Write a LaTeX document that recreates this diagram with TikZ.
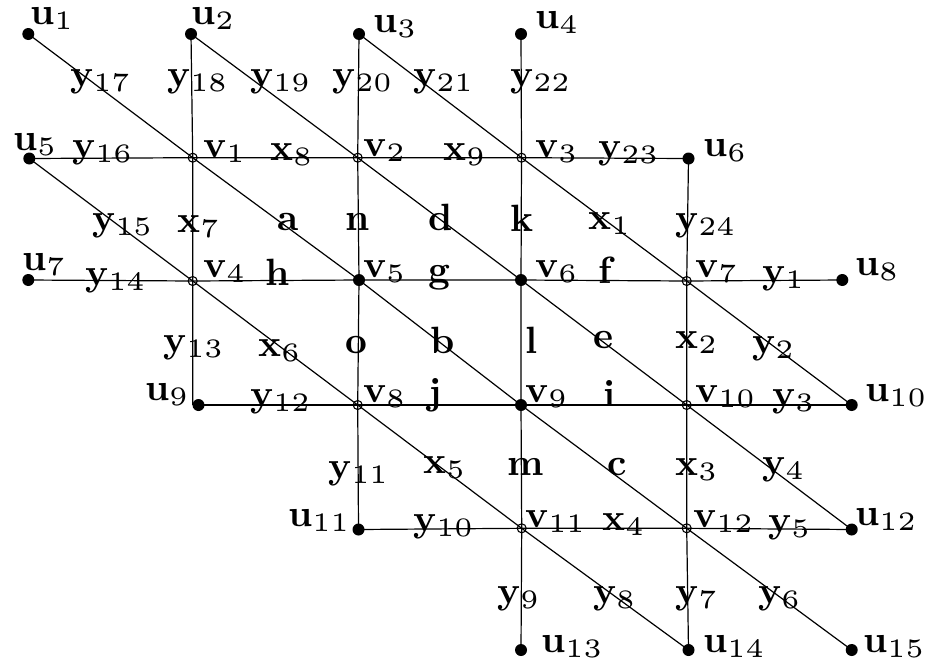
\documentclass[tikz,border=0pt]{standalone}
\usepackage{graphicx}
\newcommand\blab[1]{\scalebox{3.8}{\fontsize{10}{12}\selectfont\bfseries #1}}
\newcommand\vlab[2]{\blab{#1}\raisebox{-5.7pt}{\scalebox{5.32}{\fontsize{5}{6}\selectfont\mdseries #2}}}
\begin{document}
\begin{tikzpicture}[x=1pt,y=-1pt,
  edge/.style={line width=1.2pt},
  udot/.style={circle,fill=black,inner sep=0pt,minimum size=12pt},
  vopen/.style={circle,draw=black,line width=1.1pt,inner sep=0pt,minimum size=9pt},
  lbl/.style={anchor=base west,inner sep=0pt,font=\fontsize{10}{12}\selectfont}]
\useasboundingbox (0,0) rectangle (933,667);
% vertices
\node[udot] (u1) at (28.3,34) {};
\node[udot] (u2) at (191,34) {};
\node[udot] (u3) at (359,34) {};
\node[udot] (u4) at (521,34) {};
\node[udot] (u5) at (29.3,158.5) {};
\node[vopen] (v1) at (192.7,157.7) {};
\node[vopen] (v2) at (357.7,157.7) {};
\node[vopen] (v3) at (521.5,157.7) {};
\node[udot] (u6) at (688.5,158.5) {};
\node[udot] (u7) at (28.3,280) {};
\node[vopen] (v4) at (192.7,281) {};
\node[udot] (v5) at (359,280) {};
\node[udot] (v6) at (521,280) {};
\node[vopen] (v7) at (686.7,281) {};
\node[udot] (u8) at (842.3,280) {};
\node[udot] (u9) at (198.5,405) {};
\node[vopen] (v8) at (357.7,405) {};
\node[udot] (v9) at (521,405) {};
\node[vopen] (v10) at (686.7,405) {};
\node[udot] (u10) at (851.7,405) {};
\node[udot] (u11) at (358.5,529.5) {};
\node[vopen] (v11) at (521.7,528.3) {};
\node[vopen] (v12) at (686.7,528.3) {};
\node[udot] (u12) at (851.7,529.5) {};
\node[udot] (u13) at (521,650) {};
\node[udot] (u14) at (688.5,650) {};
\node[udot] (u15) at (851.7,650) {};
% vertical edges
\draw[edge] (u2.center) -- (v1.center) -- (v4.center) -- (v4.center |- u9.center);
\draw[edge] (u3.center) -- (v2.center) -- (v5.center) -- (v8.center) -- (u11.center);
\draw[edge] (u4.center) -- (v3.center) -- (v6.center) -- (v9.center) -- (v11.center) -- (u13.center);
\draw[edge] (u6.center) -- (v7.center) -- (v10.center) -- (v12.center) -- (u14.center);
% horizontal edges
\draw[edge] (u5.center) -- (v1.center) -- (v2.center) -- (v3.center) -- (u6.center);
\draw[edge] (u7.center) -- (v4.center) -- (v5.center) -- (v6.center) -- (v7.center) -- (u8.center);
\draw[edge] (u9.center) -- (v8.center) -- (v9.center) -- (v10.center) -- (u10.center);
\draw[edge] (u11.center) -- (v11.center) -- (v12.center) -- (u12.center);
% diagonal edges
\draw[edge] (u1.center) -- (v1.center) -- (v5.center) -- (v9.center) -- (v12.center) -- (u15.center);
\draw[edge] (u2.center) -- (v2.center) -- (v6.center) -- (v10.center) -- (u12.center);
\draw[edge] (u3.center) -- (v3.center) -- (v7.center) -- (u10.center);
\draw[edge] (u5.center) -- (v4.center) -- (v8.center) -- (v11.center) -- (u14.center);
% labels
\node[lbl] (Lu1) at (30,24) {\vlab{u}{1}};
\node[lbl] (Lu2) at (191,24) {\vlab{u}{2}};
\node[lbl] (Lu3) at (373,32) {\vlab{u}{3}};
\node[lbl] (Lu4) at (535,28) {\vlab{u}{4}};
\node[lbl] (Ly17) at (70,86) {\vlab{y}{17}};
\node[lbl] (Ly18) at (167,86) {\vlab{y}{18}};
\node[lbl] (Ly19) at (250,86) {\vlab{y}{19}};
\node[lbl] (Ly20) at (332,86) {\vlab{y}{20}};
\node[lbl] (Ly21) at (413,86) {\vlab{y}{21}};
\node[lbl] (Ly22) at (510,86) {\vlab{y}{22}};
\node[lbl] (Lu5) at (13,150) {\vlab{u}{5}};
\node[lbl] (Ly16) at (72,157) {\vlab{y}{16}};
\node[lbl] (Lv1) at (203,157) {\vlab{v}{1}};
\node[lbl] (Lx8) at (270,160) {\vlab{x}{8}};
\node[lbl] (Lv2) at (363,156) {\vlab{v}{2}};
\node[lbl] (Lx9) at (443,160) {\vlab{x}{9}};
\node[lbl] (Lv3) at (535,157) {\vlab{v}{3}};
\node[lbl] (Ly23) at (598,158) {\vlab{y}{23}};
\node[lbl] (Lu6) at (703,156) {\vlab{u}{6}};
\node[lbl] (Ly15) at (92,230) {\vlab{y}{15}};
\node[lbl] (Lx7) at (177,232) {\vlab{x}{7}};
\node[lbl] (La) at (277,230) {\blab{a}};
\node[lbl] (Ln) at (345,230) {\blab{n}};
\node[lbl] (Ld) at (428,230) {\blab{d}};
\node[lbl] (Lk) at (510,231) {\blab{k}};
\node[lbl] (Lx1) at (588,229) {\vlab{x}{1}};
\node[lbl] (Ly24) at (675,230) {\vlab{y}{24}};
\node[lbl] (Lu7) at (22,270) {\vlab{u}{7}};
\node[lbl] (Ly14) at (85,285) {\vlab{y}{14}};
\node[lbl] (Lv4) at (203,277) {\vlab{v}{4}};
\node[lbl] (Lh) at (265,285) {\blab{h}};
\node[lbl] (Lv5) at (363,277) {\vlab{v}{5}};
\node[lbl] (Lg) at (428,282) {\blab{g}};
\node[lbl] (Lv6) at (535,277) {\vlab{v}{6}};
\node[lbl] (Lf) at (598,283) {\blab{f}};
\node[lbl] (Lv7) at (695,277) {\vlab{v}{7}};
\node[lbl] (Ly1) at (762,283) {\vlab{y}{1}};
\node[lbl] (Lu8) at (855,275) {\vlab{u}{8}};
\node[lbl] (Ly13) at (163,352) {\vlab{y}{13}};
\node[lbl] (Lx6) at (258,356) {\vlab{x}{6}};
\node[lbl] (Lo) at (345,353) {\blab{o}};
\node[lbl] (Lb) at (430,353) {\blab{b}};
\node[lbl] (Ll) at (525,353) {\blab{l}};
\node[lbl] (Le) at (593,348) {\blab{e}};
\node[lbl] (Lx2) at (675,348) {\vlab{x}{2}};
\node[lbl] (Ly2) at (752,353) {\vlab{y}{2}};
\node[lbl] (Lu9) at (145,400) {\vlab{u}{9}};
\node[lbl] (Ly12) at (250,406) {\vlab{y}{12}};
\node[lbl] (Lv8) at (363,402) {\vlab{v}{8}};
\node[lbl] (Lj) at (428,404) {\blab{j}};
\node[lbl] (Lv9) at (525,402) {\vlab{v}{9}};
\node[lbl] (Li) at (603,406) {\blab{i}};
\node[lbl] (Lv10) at (695,402) {\vlab{v}{10}};
\node[lbl] (Ly3) at (772,406) {\vlab{y}{3}};
\node[lbl] (Lu10) at (865,401) {\vlab{u}{10}};
\node[lbl] (Ly11) at (328,478) {\vlab{y}{11}};
\node[lbl] (Lx5) at (423,473) {\vlab{x}{5}};
\node[lbl] (Lm) at (507,475) {\blab{m}};
\node[lbl] (Lc) at (607,475) {\blab{c}};
\node[lbl] (Lx3) at (675,475) {\vlab{x}{3}};
\node[lbl] (Ly4) at (762,474) {\vlab{y}{4}};
\node[lbl] (Lu11) at (288,526) {\vlab{u}{11}};
\node[lbl] (Ly10) at (413,531) {\vlab{y}{10}};
\node[lbl] (Lv11) at (525,527) {\vlab{v}{11}};
\node[lbl] (Lx4) at (602,530) {\vlab{x}{4}};
\node[lbl] (Lv12) at (693,527) {\vlab{v}{12}};
\node[lbl] (Ly5) at (768,532) {\vlab{y}{5}};
\node[lbl] (Lu12) at (855,525) {\vlab{u}{12}};
\node[lbl] (Ly9) at (497,603) {\vlab{y}{9}};
\node[lbl] (Ly8) at (593,603) {\vlab{y}{8}};
\node[lbl] (Ly7) at (675,603) {\vlab{y}{7}};
\node[lbl] (Ly6) at (758,603) {\vlab{y}{6}};
\node[lbl] (Lu13) at (541,652) {\vlab{u}{13}};
\node[lbl] (Lu14) at (703,652) {\vlab{u}{14}};
\node[lbl] (Lu15) at (863,652) {\vlab{u}{15}};
\end{tikzpicture}
\end{document}
